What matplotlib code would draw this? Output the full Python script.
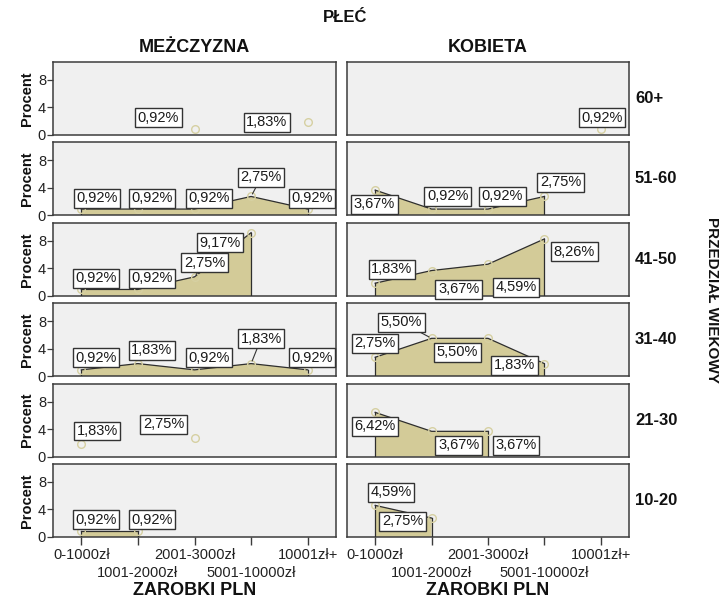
import numpy as np
import matplotlib
matplotlib.use("Agg")
import matplotlib.pyplot as plt

plt.rcParams['font.family'] = ['Liberation Sans', 'DejaVu Sans']

# ---------------- data ----------------
categories = ['0-1000zł', '1001-2000zł', '2001-3000zł', '5001-10000zł', '10001zł+']
age_groups = ['60+', '51-60', '41-50', '31-40', '21-30', '10-20']
genders = ['MEŻCZYZNA', 'KOBIETA']
nan = np.nan

male_60p = [nan, nan, 0.92, nan, 1.83]
female_60p = [nan, nan, nan, nan, 0.92]
male_51_60 = [0.92, 0.92, 0.92, 2.75, 0.92]
female_51_60 = [3.67, 0.92, 0.92, 2.75, nan]
male_41_50 = [0.92, 0.92, 2.75, 9.17, nan]
female_41_50 = [1.83, 3.67, 4.59, 8.26, nan]
male_31_40 = [0.92, 1.83, 0.92, 1.83, 0.92]
female_31_40 = [2.75, 5.50, 5.50, 1.83, nan]
male_21_30 = [1.83, nan, 2.75, nan, nan]
female_21_30 = [6.42, 3.67, 3.67, nan, nan]
male_10_20 = [0.92, 0.92, nan, nan, nan]
female_10_20 = [4.59, 2.75, nan, nan, nan]

male_rows = [male_60p, male_51_60, male_41_50, male_31_40, male_21_30, male_10_20]
female_rows = [female_60p, female_51_60, female_41_50, female_31_40, female_21_30, female_10_20]

# label offsets in pixels (dx, dy downwards) -- styling only
label_offsets = {
    (0, 0): [(-36, -11), (-41, 0)],
    (0, 1): [(1, -11)],
    (1, 0): [(15.5, -11), (14, -11), (14.5, -11), (10, -19), (4, -11)],
    (1, 1): [(-0.7, 14), (16, -13), (14.5, -13), (16, -14)],
    (2, 0): [(15, -11), (14, -11), (10, -14), (-31, 10)],
    (2, 1): [(16.6, -14), (27, 18.6), (28, 23), (30, 12.7)],
    (3, 0): [(15, -12), (14, -13.4), (14.5, -12), (10, -25), (4, -12)],
    (3, 1): [(0, -14), (-30, -16), (-30.5, 13.7), (-30, 1.6)],
    (4, 0): [(16, -13), (-31, -13.5)],
    (4, 1): [(0, 14), (27, 14), (28, 14)],
    (5, 0): [(15, -11), (14, -11)],
    (5, 1): [(16, -13), (-29, 3)],
}
# labels that show a leader line (row, col, category index)
leaders = {(1, 0, 3), (3, 0, 3), (3, 1, 1), (2, 0, 2)}

# ---------------- figure ----------------
W, H = 723, 599
fig = plt.figure(figsize=(W / 100, H / 100), dpi=100)
fig.patch.set_facecolor('white')

col_left = [53, 347]
col_width = [283, 282]
row_top0 = 62
row_pitch = 80.4
row_h = 73

fill_col = '#D3CB98'
line_col = '#2E2E2E'
spine_col = '#3C3C3C'
ymax = 10.6
x = np.arange(len(categories))

def fmt(v):
    return ('%.2f' % v).replace('.', ',') + '%'

for r, age in enumerate(age_groups):
    top = row_top0 + r * row_pitch
    for c in range(2):
        left = col_left[c]
        ax = fig.add_axes([left / W, 1 - (top + row_h) / H, col_width[c] / W, row_h / H])
        ax.set_facecolor('#F0F0F0')
        for s in ax.spines.values():
            s.set_color(spine_col)
            s.set_linewidth(1.1)
        ax.set_xlim(-0.5, len(categories) - 0.5)
        ax.set_ylim(0, ymax)
        vals = np.array((male_rows if c == 0 else female_rows)[r], dtype=float)

        valid = ~np.isnan(vals)
        i = 0
        while i < len(vals):
            if valid[i]:
                j = i
                while j + 1 < len(vals) and valid[j + 1]:
                    j += 1
                if j > i:
                    xs = x[i:j + 1]
                    ys = vals[i:j + 1]
                    ax.fill_between(xs, 0, ys, facecolor=fill_col, edgecolor='none', zorder=2)
                    ax.plot(xs, ys, color=line_col, lw=0.9, zorder=3)
                    ax.plot([xs[0], xs[0]], [0, ys[0]], color=line_col, lw=0.9, zorder=3)
                    ax.plot([xs[-1], xs[-1]], [0, ys[-1]], color=line_col, lw=0.9, zorder=3)
                i = j + 1
            else:
                i += 1
        ax.plot(x[valid], vals[valid], linestyle='none', marker='o', markersize=5.5,
                markerfacecolor='none', markeredgecolor='#D6D0A2', markeredgewidth=1.0, zorder=4)

        offs = label_offsets[(r, c)]
        k = 0
        for xi, v in zip(x, vals):
            if np.isnan(v):
                continue
            dx, dy = offs[k]
            k += 1
            ap = None
            if (r, c, xi) in leaders:
                ap = dict(arrowstyle='-', color='#333333', lw=0.8, shrinkA=0, shrinkB=2)
            ax.annotate(fmt(v), xy=(xi, v), xytext=(dx, -dy), textcoords='offset pixels',
                        ha='center', va='center', fontsize=10.5, color='#1A1A1A',
                        bbox=dict(boxstyle='square,pad=0.17', facecolor='white',
                                  edgecolor='#333333', linewidth=1.0),
                        arrowprops=ap, zorder=6, annotation_clip=False)

        if c == 0:
            ax.set_yticks([0, 4, 8])
            ax.set_yticklabels(['0', '4', '8'])
            ax.tick_params(axis='y', direction='out', length=4, width=0.9, color=spine_col,
                           labelsize=10.5, pad=1, labelcolor='#222222')
            ax.set_ylabel('Procent', fontsize=10.5, fontweight='bold', labelpad=3, color='#111111')
        else:
            ax.set_yticks([])

        if r == len(age_groups) - 1:
            ax.set_xticks(x)
            ax.set_xticklabels(categories)
            ax.tick_params(axis='x', direction='out', length=6, width=1.0, color=spine_col,
                           labelsize=10.5, pad=2, labelcolor='#222222')
            for k2, t in enumerate(ax.xaxis.get_major_ticks()):
                if k2 % 2 == 1:
                    t.tick1line.set_markersize(19)
                    t.set_pad(15)
            ax.set_xlabel('ZAROBKI PLN', fontsize=13, fontweight='bold', labelpad=1, color='#111111')
        else:
            ax.set_xticks([])

    fig.text(635 / W, 1 - (top + row_h / 2) / H, age, ha='left', va='center',
             fontsize=12, fontweight='bold', color='#111111')

for c, g in enumerate(genders):
    fig.text((col_left[c] + col_width[c] / 2) / W, 1 - 47 / H, g, ha='center', va='center',
             fontsize=13, fontweight='bold', color='#111111')

fig.text(345 / W, 1 - 18 / H, 'PŁEĆ', ha='center', va='center', fontsize=12,
         fontweight='bold', color='#111111')
fig.text(712 / W, 1 - 300 / H, 'PRZEDZIAŁ WIEKOWY', ha='center', va='center', rotation=270,
         fontsize=11, fontweight='bold', color='#111111')

fig.savefig('out.png', dpi=100)
